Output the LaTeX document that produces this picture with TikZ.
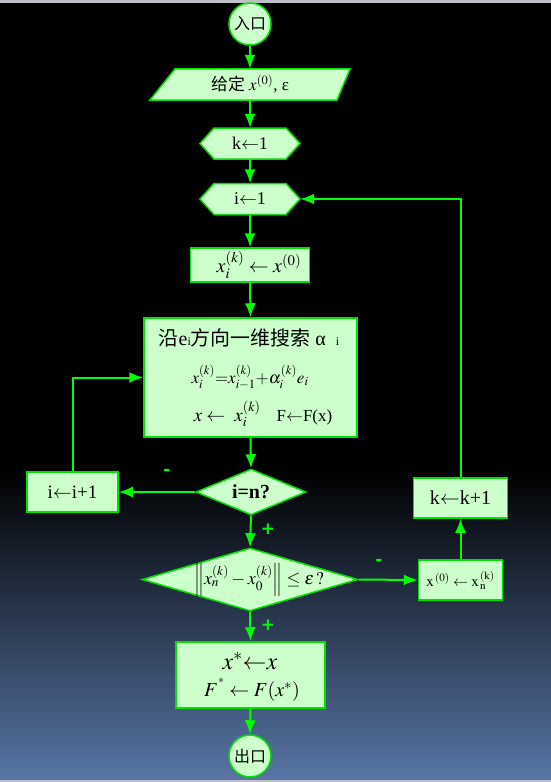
\documentclass[tikz,border=0pt]{standalone}
\usepackage{mathptmx}
\usepackage{fontspec}
\setmainfont{Liberation Serif}
\newfontfamily\cjk{Noto Sans CJK SC}
\newfontfamily\signfont{DejaVu Sans}
\usetikzlibrary{arrows.meta,shapes.geometric,calc}
\definecolor{fillg}{RGB}{204,255,204}
\definecolor{lineg}{RGB}{0,255,0}
\definecolor{bordg}{RGB}{0,225,0}
\definecolor{bgblue}{RGB}{88,118,166}
\definecolor{stripg}{RGB}{190,192,200}
\newcommand{\fs}[1]{\fontsize{#1}{#1}\selectfont}
\begin{document}
\begin{tikzpicture}[x=1bp,y=-1bp,
  box/.style={draw=bordg, fill=fillg, line width=1.5bp, inner sep=0pt, rectangle, text=black},
  term/.style={box, circle, minimum size=42bp},
  dia/.style={box, diamond},
  shapeline/.style={draw=bordg, fill=fillg, line width=1.5bp},
  ghost/.style={inner sep=0pt, rectangle, text=black},
  conn/.style={draw=lineg, line width=2bp, -{Latex[length=14bp,width=11bp]}},
  sign/.style={text=lineg, font=\signfont\bfseries\fs{17}}
]
% background
\fill[black] (0,0) rectangle (551,782);
\shade[top color=black, bottom color=bgblue] (0,470) rectangle (551,782);
\fill[stripg] (0,0) rectangle (551,3);
\fill[stripg] (0,780) rectangle (551,782);
\useasboundingbox (0,0) rectangle (551,782);

% entry
\node[term, font=\cjk\fs{16}] (entry) at (250,24) {入口};

% input parallelogram
\draw[shapeline] (150,100) -- (175,69) -- (350,69) -- (337,100) -- cycle;
\node[ghost, minimum width=180bp, minimum height=31bp, font=\fs{17}] (give) at (250,84.5) {{\cjk 给定} $x^{(0)}$, ε};

% hexagons
\draw[shapeline] (200,143.5) -- (214,128) -- (286,128) -- (300,143.5) -- (286,159) -- (214,159) -- cycle;
\node[ghost, minimum width=100bp, minimum height=31bp, font=\fs{18}] (k1) at (250,143.5) {k$\leftarrow$1};
\draw[shapeline] (200,199) -- (214,183.5) -- (286,183.5) -- (300,199) -- (286,214.5) -- (214,214.5) -- cycle;
\node[ghost, minimum width=100bp, minimum height=31bp, font=\fs{18}] (i1) at (250,199) {i$\leftarrow$1};

% init box
\node[box, minimum width=119bp, minimum height=34bp] (xi) at (250,265) {};
\node[ghost, font=\fs{20}] (xit) at (259,265) {$x_i^{(k)}\leftarrow x^{(0)}$};

% big box
\node[box, minimum width=213bp, minimum height=119bp] (big) at (250.5,377.5) {};
\node[ghost, font=\fs{20}] (bl1) at (249,338) {{\cjk 沿}e{\fs{12}i}{\cjk 方向一维搜索}\hspace{5bp}α\hspace{10bp}{\fs{12}i}};
\node[ghost, font=\fs{17}] (bl2) at (250,377) {$x_i^{(k)}{=}x_{i-1}^{(k)}{+}\alpha_i^{(k)}e_i$};
\node[ghost, font=\fs{19}] (bl3) at (263,414) {$x\leftarrow\ x_i^{(k)}$\hspace{16bp}{\fs{17}F$\leftarrow$F(x)}};

% decision i=n
\node[dia, aspect=2.39, minimum width=110bp, minimum height=46bp, font=\bfseries\fs{20}] (d1) at (251,492) {i=n?};
\node[box, minimum width=91bp, minimum height=40bp, font=\fs{19}] (inc) at (72.5,492) {i$\leftarrow$i+1};
\node[box, minimum width=94bp, minimum height=40bp, font=\fs{20}] (kinc) at (460.5,498) {k$\leftarrow$k+1};

% decision convergence
\node[dia, aspect=3.43, minimum width=216bp, minimum height=63bp] (d2) at (250,579.5) {};
\node[ghost, font=\fs{18}] (d2t) at (259,580) {$\left\|x_n^{(k)}-x_0^{(k)}\right\|\le\varepsilon\,?$};
\node[box, minimum width=84bp, minimum height=40bp, font=\fs{15}] (xb) at (460.5,580) {$\mathrm{x}^{\,(0)}\leftarrow\mathrm{x}_{\,\mathrm{n}}^{\,(\mathrm{k})}$};

% final
\node[box, minimum width=149bp, minimum height=66bp] (fin) at (250.5,675) {};
\node[ghost, font=\fs{24}] (fl1) at (250,661) {$x^{*}\!\!\leftarrow\!\! x$};
\node[ghost, font=\fs{20}] (fl2) at (252,690) {$F^{^*}\leftarrow F(x^{*})$};
\node[term, font=\cjk\fs{16}] (exit) at (250,756) {出口};

% labels
\node[sign] (m1) at (167,472) {-};
\node[sign] (p1) at (268,529) {+};
\node[sign] (m2) at (379,562) {-};
\node[sign] (p2) at (268,625) {+};

% connectors
\draw[conn] (entry.south) -- (give.north);
\draw[conn] (give.south) -- (k1.north);
\draw[conn] (k1.south) -- (i1.north);
\draw[conn] (i1.south) -- (xi.north);
\draw[conn] (xi.south) -- (big.north);
\draw[conn] (big.south) -- (d1.north);
\draw[conn] (d1.west) -- (inc.east);
\draw[conn] (inc.north) |- (big.west);
\draw[conn] (d1.south) -- (d2.north);
\draw[conn] (d2.east) -- (xb.west);
\draw[conn] (xb.north) -- (kinc.south);
\draw[conn] (kinc.north) |- (i1.east);
\draw[conn] (d2.south) -- (fin.north);
\draw[conn] (fin.south) -- (exit.north);
\end{tikzpicture}
\end{document}
